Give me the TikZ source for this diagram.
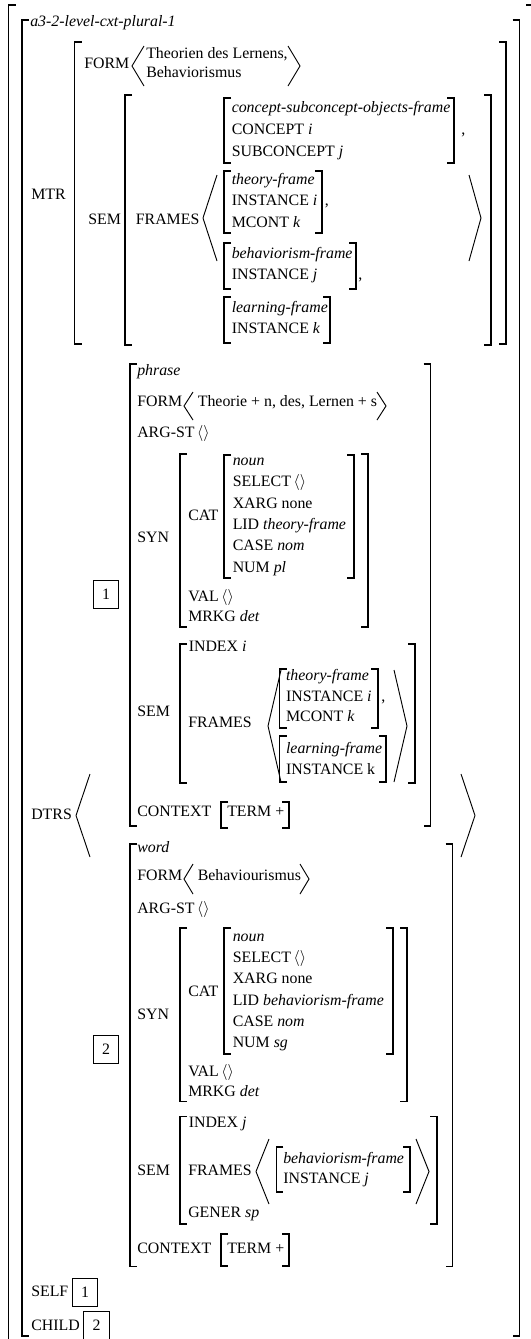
\documentclass[tikz,border=0pt]{standalone}
\usepackage{fontspec}
\setmainfont{Liberation Serif}
\tikzset{
  avm/.style={line width=0.9pt},
  ang/.style={line width=0.7pt},
  txt/.style={anchor=base west, inner sep=0pt, font=\fontsize{11.9}{14}\selectfont},
  tagbox/.style={draw, line width=0.6pt, inner sep=0pt, minimum width=19pt, minimum height=21pt, font=\fontsize{11.9}{14}\selectfont}
}
\newcommand{\brL}[3]{\draw[avm] (#1+7,#2) -- (#1,#2) -- (#1,#3) -- (#1+7,#3);}
\newcommand{\brR}[3]{\draw[avm] (#1-7,#2) -- (#1,#2) -- (#1,#3) -- (#1-7,#3);}
\newcommand{\agL}[4]{\draw[ang] (#1+#4,#2) -- (#1,{(#2+#3)/2}) -- (#1+#4,#3);}
\newcommand{\agR}[4]{\draw[ang] (#1-#4,#2) -- (#1,{(#2+#3)/2}) -- (#1-#4,#3);}
\newcommand{\nil}{\,$\langle\rangle$}
\begin{document}
\begin{tikzpicture}[x=0.75pt, y=-0.75pt]
\useasboundingbox (0,0) rectangle (531,1339);

\brL{8.5}{5}{1345} \brR{533}{5}{1345}
\brL{22}{20}{1336} \brR{519.5}{20}{1336}
\node[txt] (type) at (30,26) {\textit{a3-2-level-cxt-plural-1}};

\node[txt] (mtr) at (31,199) {MTR};
\brL{74.6}{42}{344} \brR{506}{42}{344}
\node[txt] (mform) at (84,68) {FORM};
\agL{132}{46}{86}{12} \agR{300}{46}{86}{12}
\node[txt] (mform1) at (146,58) {Theorien des Lernens,};
\node[txt] (mform2) at (146,77) {Behaviorismus};
\node[txt] (msem) at (88,224) {SEM};
\brL{125}{95}{345} \brR{491}{95}{345}
\node[txt] (mframes) at (135.6,224) {FRAMES};
\agL{203}{175}{261}{14} \agR{481}{175}{261}{12}

\brL{224}{98}{163} \brR{454}{98}{163}
\node[txt] (csf) at (231.5,112) {\textit{concept-subconcept-objects-frame}};
\node[txt] (csf1) at (231.5,134) {CONCEPT \textit{i}};
\node[txt] (csf2) at (231.5,156) {SUBCONCEPT \textit{j}};
\node[txt] (csfc) at (461,134) {,};

\brL{224}{171}{233} \brR{322}{171}{233}
\node[txt] (mtf) at (231.5,184) {\textit{theory-frame}};
\node[txt] (mtf1) at (231.5,205.5) {INSTANCE \textit{i}};
\node[txt] (mtf2) at (231.5,227) {MCONT \textit{k}};
\node[txt] (mtfc) at (324.5,205.5) {,};

\brL{224}{243}{289} \brR{356}{243}{289}
\node[txt] (mbf) at (231.5,258) {\textit{behaviorism-frame}};
\node[txt] (mbf1) at (231.5,279) {INSTANCE \textit{j}};
\node[txt] (mbfc) at (358,279) {,};

\brL{224}{297}{343} \brR{330}{297}{343}
\node[txt] (mlf) at (231.5,312) {\textit{learning-frame}};
\node[txt] (mlf1) at (231.5,333) {INSTANCE \textit{k}};

\node[txt] (dtrs) at (31,819) {DTRS};
\agL{76}{774}{857}{14} \agR{475}{774}{857}{14}

\node[tagbox] (tag1) at (106,594) {1};
\brL{130}{364}{826} \brR{430.5}{364}{826}
\node[txt] (ph) at (137,375) {\textit{phrase}};
\node[txt] (phform) at (137,406) {FORM};
\agL{184}{392}{420}{9} \agR{386}{392}{420}{9}
\node[txt] (phform1) at (197.6,406) {Theorie + n, des, Lernen + s};
\node[txt] (pharg) at (137,437) {ARG-ST\nil};
\node[txt] (phsyn) at (137,542) {SYN};
\brL{180}{454}{627} \brR{368}{454}{627}
\node[txt] (phcat) at (188,520) {CAT};
\brL{224}{455}{578} \brR{354}{455}{578}
\node[txt] (phc1) at (232.5,465.5) {\textit{noun}};
\node[txt] (phc2) at (232.5,486.8) {SELECT\nil};
\node[txt] (phc3) at (232.5,508.1) {XARG none};
\node[txt] (phc4) at (232.5,529.4) {LID \textit{theory-frame}};
\node[txt] (phc5) at (232.5,550.7) {CASE \textit{nom}};
\node[txt] (phc6) at (232.5,572) {NUM \textit{pl}};
\node[txt] (phval) at (188,601) {VAL\nil};
\node[txt] (phmrkg) at (188,621.5) {MRKG \textit{det}};
\node[txt] (phsem) at (137,716) {SEM};
\brL{180}{644}{783} \brR{415}{644}{783}
\node[txt] (phidx) at (188.5,651.5) {INDEX \textit{i}};
\node[txt] (phframes) at (188,727) {FRAMES};
\agL{268}{670}{782}{13} \agR{407}{670}{782}{13}
\brL{279.7}{669}{728} \brR{378}{669}{728}
\node[txt] (ptf) at (285.8,680.5) {\textit{theory-frame}};
\node[txt] (ptf1) at (285.8,701) {INSTANCE \textit{i}};
\node[txt] (ptf2) at (285.8,721.5) {MCONT \textit{k}};
\node[txt] (ptfc) at (381,701) {,};
\brL{279.7}{736}{782} \brR{386}{736}{782}
\node[txt] (plf) at (285.8,753) {\textit{learning-frame}};
\node[txt] (plf1) at (285.8,774) {INSTANCE k};
\node[txt] (phctx) at (137,816) {CONTEXT};
\brL{221}{802}{828} \brR{289}{802}{828}
\node[txt] (phterm) at (227,816) {TERM +};

\node[tagbox] (tag2) at (106,1049.5) {2};
\brL{130}{844}{1266.5} \brR{452.5}{844}{1266.5}
\node[txt] (wd) at (137,852) {\textit{word}};
\node[txt] (wdform) at (137,880.5) {FORM};
\agL{184}{864}{894}{9} \agR{309}{864}{894}{9}
\node[txt] (wdform1) at (197.6,880.5) {Behaviourismus};
\node[txt] (wdarg) at (137,913) {ARG-ST\nil};
\node[txt] (wdsyn) at (137,1019) {SYN};
\brL{180}{928}{1101.5} \brR{407}{928}{1101.5}
\node[txt] (wdcat) at (188,996) {CAT};
\brL{224}{928}{1054} \brR{393}{928}{1054}
\node[txt] (wdc1) at (232.5,941.5) {\textit{noun}};
\node[txt] (wdc2) at (232.5,962.7) {SELECT\nil};
\node[txt] (wdc3) at (232.5,983.9) {XARG none};
\node[txt] (wdc4) at (232.5,1005.1) {LID \textit{behaviorism-frame}};
\node[txt] (wdc5) at (232.5,1026.3) {CASE \textit{nom}};
\node[txt] (wdc6) at (232.5,1047.5) {NUM \textit{sg}};
\node[txt] (wdval) at (188,1076) {VAL\nil};
\node[txt] (wdmrkg) at (188,1096) {MRKG \textit{det}};
\node[txt] (wdsem) at (137,1175.5) {SEM};
\brL{180}{1116.5}{1224} \brR{437}{1116.5}{1224}
\node[txt] (wdidx) at (188.5,1127) {INDEX \textit{j}};
\node[txt] (wdframes) at (188,1175.5) {FRAMES};
\agL{256}{1139}{1204}{13} \agR{429}{1139}{1204}{13}
\brL{276.3}{1147}{1192} \brR{410}{1147}{1192}
\node[txt] (wbf) at (283,1163) {\textit{behaviorism-frame}};
\node[txt] (wbf1) at (283,1183.5) {INSTANCE \textit{j}};
\node[txt] (wdgener) at (188,1217.5) {GENER \textit{sp}};
\node[txt] (wdctx) at (137,1253.5) {CONTEXT};
\brL{221}{1234}{1266} \brR{289}{1234}{1266}
\node[txt] (wdterm) at (227,1253.5) {TERM +};

\node[txt] (self) at (31,1296.5) {SELF};
\node[tagbox] (self1) at (85,1292) {1};
\node[txt] (child) at (31,1330) {CHILD};
\node[tagbox] (child2) at (96.5,1325.7) {2};
\end{tikzpicture}
\end{document}
